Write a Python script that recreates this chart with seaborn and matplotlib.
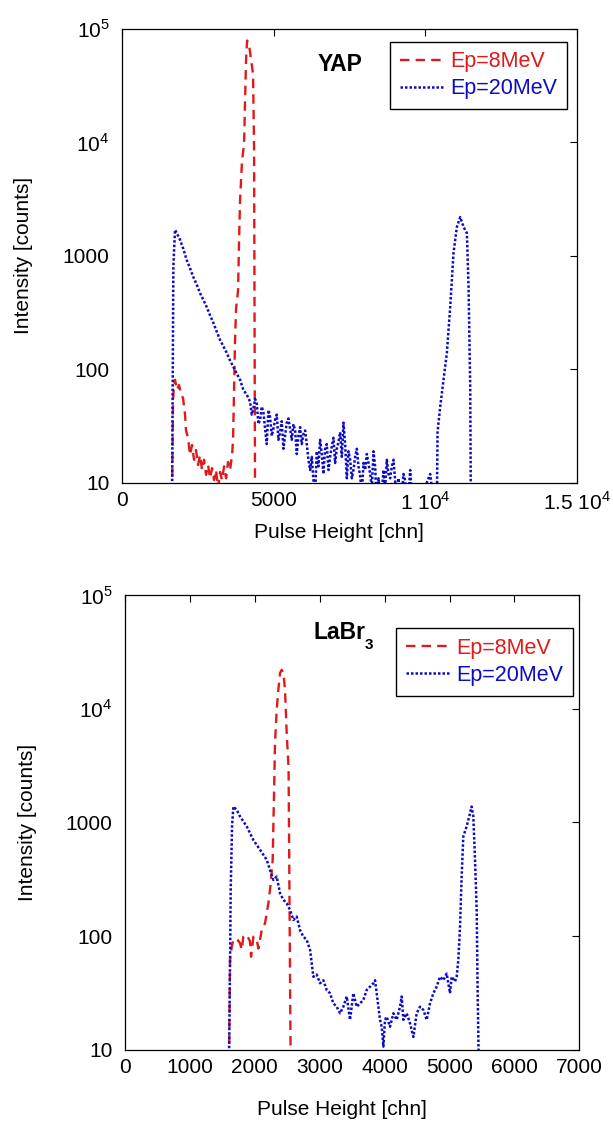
import matplotlib
matplotlib.use("Agg")
import matplotlib.pyplot as plt
import seaborn as sns
from matplotlib.ticker import NullLocator

# YAP spectra (pulse height [chn], counts)
yap_x_8 = [1650, 1683, 1716, 1749, 1815, 1881, 1947, 2013, 2079, 2112,
           2178, 2244, 2310, 2376, 2442, 2508, 2574, 2640, 2706, 2772,
           2838, 2904, 2970, 3036, 3102, 3168, 3234, 3300, 3366, 3432,
           3498, 3564, 3630, 3663, 3729, 3762, 3795, 3828, 3861, 3894,
           3960, 4026, 4059, 4092, 4125, 4191, 4257, 4323, 4356, 4389]
yap_y_8 = [6, 54, 73, 81, 66, 73, 60, 56, 40, 29,
           25, 17.6, 21.6, 16, 19.5, 14.4, 17.6, 13, 16, 11.8,
           14.4, 11, 13.5, 10.6, 13, 9, 12.5, 10.6, 14, 11,
           15.3, 13, 17.6, 24, 182, 347, 410, 500, 1380, 3100,
           7000, 9600, 23500, 53600, 79000, 72000, 53600, 40000, 8600, 6]

yap_x_20 = [1650, 1694, 1749, 1800, 1914, 2024, 2134, 2244, 2354, 2464,
            2574, 2684, 2794, 2904, 3014, 3124, 3234, 3344, 3454, 3564,
            3674, 3784, 3894, 4004, 4114,
            4224, 4279, 4334, 4389, 4444, 4499, 4554, 4609, 4664, 4719,
            4774, 4829, 4884, 4939, 4994, 5049, 5104, 5159, 5214, 5269,
            5324, 5379, 5434, 5489, 5544, 5599, 5654, 5709, 5764, 5819,
            5874, 5929, 5984, 6039, 6094, 6149, 6204, 6259, 6314, 6369,
            6424, 6479, 6534, 6589, 6644, 6699, 6754, 6809, 6864, 6919,
            6974, 7029, 7084, 7139, 7194, 7249, 7304, 7359, 7414, 7469,
            7524, 7579, 7634, 7689, 7744, 7799, 7854, 7909, 7964, 8019,
            8074, 8129, 8184, 8239, 8294, 8349, 8404, 8459, 8514, 8569,
            8624, 8679, 8734, 8789, 8844, 8899, 8954, 9009, 9064, 9119,
            9174, 9229, 9284, 9339, 9394, 9449, 9504, 9559, 9614, 9669,
            9724,
            10164, 10300, 10384, 10406, 10494, 10604, 10714, 10824, 10934, 11044,
            11154, 11264, 11374, 11429, 11484, 11506]
yap_y_20 = [6, 800, 1700, 1600, 1390, 1150, 920, 780, 650, 560,
            470, 410, 355, 300, 257, 215, 182, 160, 140, 120,
            105, 92, 81, 66, 60,
            52, 40, 45, 55, 50, 33, 36, 47, 42, 30,
            22, 44, 38, 26, 30, 36, 40, 24, 28, 35,
            20, 26, 34, 37, 30, 24, 33, 29, 18, 26,
            31, 22, 27, 29, 22, 16, 13, 17, 10.5, 8,
            19, 14, 24, 18, 12, 20, 22, 13, 17, 21,
            25, 15, 20, 23, 28, 17, 34, 22, 11, 19,
            16, 11, 13, 17, 20, 14, 11.5, 8, 15, 13,
            18, 15, 12, 9, 19, 14, 6, 11, 6, 8,
            13, 9, 16, 12, 11, 14, 16, 10.5, 6, 11,
            6, 8, 12, 10.5, 6, 8, 13, 8, 6, 8,
            6,
            12, 6, 6, 28, 47, 81, 140, 355, 1070, 1800,
            2200, 1800, 1590, 533, 70, 6]

# LaBr3 spectra
labr_x_8 = [1600, 1618, 1644, 1669, 1721, 1772, 1798, 1823, 1875, 1926,
            1942, 1978, 2029, 2055, 2080, 2106, 2157, 2209, 2245, 2275,
            2296, 2311, 2337, 2363, 2388, 2414, 2440, 2465, 2491, 2520,
            2553]
labr_y_8 = [6, 62, 81, 93, 95, 87, 76, 99, 103, 90,
            66, 99, 93, 78, 93, 113, 130, 195, 292, 470,
            1810, 5000, 9800, 14800, 20600, 22000, 20600, 14800, 6100, 3000,
            6]

labr_x_20 = [1600, 1618, 1628, 1649, 1669, 1721, 1772, 1875, 1978, 2080,
             2183, 2234, 2286, 2337, 2388, 2440, 2491, 2543, 2594, 2645,
             2697, 2748, 2799, 2851, 2902, 2953, 3005, 3056, 3107, 3159,
             3210, 3262, 3313, 3364, 3416, 3467, 3518, 3570, 3621, 3672,
             3724, 3775, 3827, 3852, 3878, 3929, 3955, 3981, 4006, 4032,
             4083, 4135, 4186, 4237, 4263, 4289, 4340, 4391, 4443, 4494,
             4546, 4597, 4648, 4700, 4751, 4802, 4854, 4905, 4956, 5008,
             5033, 5085, 5110, 5136, 5162, 5187, 5213, 5264, 5316, 5341,
             5367, 5393, 5419, 5434, 5450, 5470]
labr_y_20 = [6, 60, 256, 923, 1380, 1290, 1130, 923, 700, 576,
             470, 383, 312, 335, 239, 209, 195, 170, 139, 149,
             113, 99, 93, 76, 44, 46, 38.6, 41, 33.7, 31.5,
             25.7, 24, 21, 24, 29.5, 18.4, 31.5, 24, 25.7, 27.5,
             33.7, 36, 38.6, 41, 31.5, 18.4, 16, 10.7, 18.4, 19.6,
             16, 21, 18.4, 24, 29.5, 18.4, 21, 17.2, 13, 21,
             24, 22.5, 18.4, 25.7, 31.5, 36, 44, 41, 47, 31.5,
             44, 40, 44, 62, 121, 335, 753, 923, 1200, 1380,
             1130, 470, 170, 31.5, 8, 6]

y_ticks = [10, 100, 1000, 1e4, 1e5]
y_ticklabels = ["10", "100", "1000", "10$^4$", "10$^5$"]
yap_xticks = [0, 5000, 10000, 15000]
yap_xticklabels = ["0", "5000", "1 10$^4$", "1.5 10$^4$"]
labr_xticks = [0, 1000, 2000, 3000, 4000, 5000, 6000, 7000]

RED = "#e01a1a"
BLUE = "#0c0cc4"

sns.set_style("white")
plt.rcParams["font.family"] = ["Liberation Sans", "DejaVu Sans"]
plt.rcParams["mathtext.fontset"] = "custom"
plt.rcParams["mathtext.rm"] = "Liberation Sans"
plt.rcParams["mathtext.bf"] = "Liberation Sans:bold"
plt.rcParams["text.color"] = "black"
plt.rcParams["axes.labelcolor"] = "black"

fig = plt.figure(figsize=(6.13, 11.25), dpi=100)
ax1 = fig.add_axes([0.199, 0.5707, 0.742, 0.4036])
ax2 = fig.add_axes([0.204, 0.0667, 0.741, 0.4044])


def draw(ax, x8, y8, x20, y20):
    sns.lineplot(x=x8, y=y8, ax=ax, color=RED, linestyle=(0, (4, 2.6)),
                 linewidth=1.7, label="Ep=8MeV")
    sns.lineplot(x=x20, y=y20, ax=ax, color=BLUE, linestyle=(0, (1, 0.8)),
                 linewidth=1.8, label="Ep=20MeV")
    ax.set_yscale("log")
    ax.set_ylim(10, 1e5)
    ax.set_yticks(y_ticks)
    ax.set_yticklabels(y_ticklabels)
    ax.yaxis.set_minor_locator(NullLocator())
    ax.tick_params(which="both", direction="in", top=True, right=True,
                   length=5, width=0.8, labelsize=15, colors="black")
    ax.tick_params(axis="y", pad=9)
    ax.tick_params(axis="x", pad=6)
    for s in ax.spines.values():
        s.set_color("black")
        s.set_linewidth(0.9)
    ax.set_xlabel("Pulse Height [chn]", fontsize=15)
    ax.set_ylabel("Intensity [counts]", fontsize=15)


def legend(ax, anchor):
    ax.legend(loc="upper right", bbox_to_anchor=anchor, fontsize=15.5,
              frameon=True, fancybox=False, edgecolor="black", framealpha=1,
              labelcolor="linecolor", handlelength=2.0, borderpad=0.45,
              labelspacing=0.28, handletextpad=0.35, borderaxespad=0)


draw(ax1, yap_x_8, yap_y_8, yap_x_20, yap_y_20)
ax1.set_xlim(0, 15000)
ax1.set_xticks(yap_xticks)
ax1.set_xticklabels(yap_xticklabels)
ax1.xaxis.set_label_coords(0.476, -0.088)
ax1.yaxis.set_label_coords(-0.195, 0.5)
ax1.text(0.48, 0.922, "YAP", transform=ax1.transAxes, ha="center",
         va="center", fontsize=16.5, fontweight="bold")
legend(ax1, (0.978, 0.972))

draw(ax2, labr_x_8, labr_y_8, labr_x_20, labr_y_20)
ax2.set_xlim(0, 7000)
ax2.set_xticks(labr_xticks)
ax2.set_xticklabels([str(t) for t in labr_xticks])
ax2.xaxis.set_label_coords(0.477, -0.11)
ax2.yaxis.set_label_coords(-0.194, 0.5)
ax2.text(0.529, 0.918, "LaBr", transform=ax2.transAxes, ha="right",
         va="center", fontsize=16.5, fontweight="bold")
ax2.text(0.528, 0.89, "3", transform=ax2.transAxes, ha="left",
         va="center", fontsize=11, fontweight="bold")
legend(ax2, (0.987, 0.927))

fig.savefig("out.png", dpi=100)
